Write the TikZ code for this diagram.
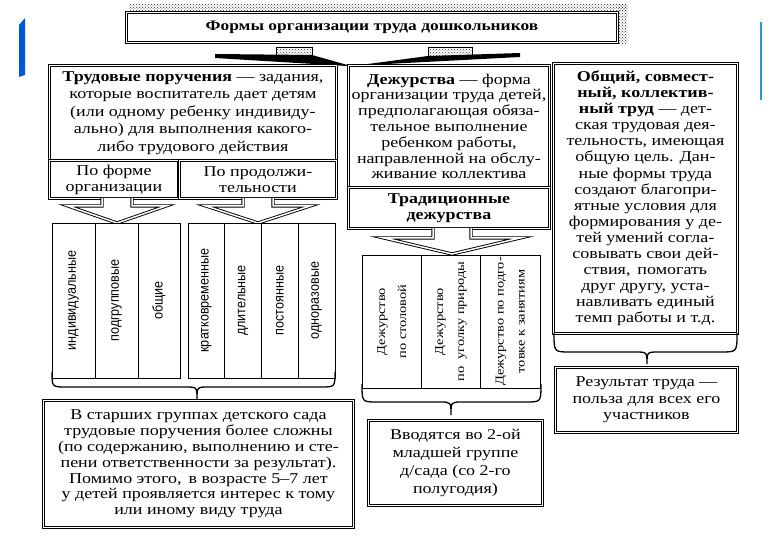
\documentclass[tikz,border=0pt]{standalone}
\usepackage{fontspec}
\setmainfont[FakeStretch=1.2]{Liberation Serif}
\newfontfamily\narrowsans[FakeStretch=0.9]{Liberation Sans}
\usetikzlibrary{calc,patterns}
\begin{document}
\begin{tikzpicture}[x=1pt,y=-1pt,
  frame/.style={draw=black, line width=0.9pt, double=white, double distance=1.5pt, fill=white,
    inner sep=0pt, anchor=north west, align=center},
  col/.style={draw=black, line width=0.7pt, fill=white, inner sep=0pt, rotate=90, align=center},
  barrow/.style={draw=black, line width=0.9pt, double=white, double distance=1.5pt, line join=miter},
  brace/.style={draw=black, line width=1.3pt},
  stub/.style={draw=black, pattern=crosshatch dots, pattern color=black!80, minimum height=10pt, inner sep=0pt, anchor=north west},
  boxtext/.style={font=\fontsize{15}{17.5}\selectfont},
  sanscol/.style={font=\narrowsans\fontsize{14}{16}\selectfont},
  sercol/.style={font=\fontsize{12}{21}\selectfont},
]
\useasboundingbox (0,0) rectangle (780,540);
\fill[white] (0,0) rectangle (780,540);

% blue side bars
\fill[blue!60!cyan!85!black] (19,25) -- (25,18) -- (25,75) -- (19,77) -- cycle;
\draw[cyan!60!teal, line width=2.5pt] (761,22) -- (761,100);

% title with hatched shadow
\fill[pattern=crosshatch dots, pattern color=black!85] (129,5) rectangle (627,11);
\fill[pattern=crosshatch dots, pattern color=black!85] (618,5) rectangle (627,44);
\node[frame, minimum width=491pt, minimum height=30pt, font=\fontsize{14.5}{17}\selectfont\bfseries] (title) at (126,12) {Формы организации труда дошкольников};

% stubs and converging bars
\coordinate (junction) at (350,66);
\node[stub, minimum width=36pt] (stubL) at (276,47) {};
\node[stub, minimum width=44pt] (stubR) at (428,47) {};
\fill (215,54) -- (312,55) -- (351,66) -- (347,66) -- (215,58) -- cycle;
\fill (520,53) -- (428,56) -- (353,66) -- (349,66) -- (520,57) -- cycle;

% left box
\node[frame, boxtext, minimum width=287pt, minimum height=95pt] (trud) at (49,65)
 {\textbf{Трудовые поручения} — задания,\\которые воспитатель дает детям\\(или одному ребенку индивиду-\\ально) для выполнения какого-\\либо трудового действия};
\node[frame, font=\fontsize{15}{16}\selectfont, minimum width=129pt, minimum height=38pt] (forma) at (49,160) {По форме\\организации};
\node[frame, font=\fontsize{15}{16}\selectfont, minimum width=157pt, minimum height=38pt] (prod) at (179,160) {По продолжи-\\тельности};

% arrows below sub boxes
\draw[barrow, fill=white] (102,198) -- (102,206) -- (68,206) -- (117,223) -- (166,206) -- (132,206) -- (132,198);
\draw[barrow, fill=white] (243,198) -- (243,206) -- (206,206) -- (258,223) -- (310,206) -- (273,206) -- (273,198);

% left columns
\node[col, sanscol, minimum width=155pt, minimum height=43pt] (c1) at (73.5,300.5) {индивидуальные};
\node[col, sanscol, minimum width=155pt, minimum height=43pt] (c2) at (116.5,300.5) {подгрупповые};
\node[col, sanscol, minimum width=155pt, minimum height=42pt] (c3) at (159,300.5) {общие};
\node[col, sanscol, minimum width=155pt, minimum height=36.75pt] (d1) at (206.4,300.5) {кратковременные};
\node[col, sanscol, minimum width=155pt, minimum height=36.75pt] (d2) at (243.1,300.5) {длительные};
\node[col, sanscol, minimum width=155pt, minimum height=36.75pt] (d3) at (279.9,300.5) {постоянные};
\node[col, sanscol, minimum width=155pt, minimum height=36.75pt] (d4) at (316.6,300.5) {одноразовые};

% left brace
\draw[brace] (52,372) .. controls (52,387) .. (66,387) -- (185,387) .. controls (197,387) .. (197,399)
  .. controls (197,387) .. (209,387) -- (321,387) .. controls (335,387) .. (335,372);

% bottom-left box
\node[frame, font=\fontsize{15}{15.8}\selectfont, minimum width=310pt, minimum height=127pt] (older) at (43,400)
 {В старших группах детского сада\\трудовые поручения более сложны\\(по содержанию, выполнению и сте-\\пени ответственности за результат).\\Помимо этого,\, в возрасте 5–7 лет\\у детей проявляется интерес к тому\\или иному виду труда};

% middle box
\node[frame, font=\fontsize{15}{15.8}\selectfont, minimum width=201pt, minimum height=122pt] (dezh) at (348,65)
 {\textbf{Дежурства} — форма\\организации труда детей,\\предполагающая обяза-\\тельное выполнение\\ребенком работы,\\направленной на обслу-\\живание коллектива};
\node[frame, font=\fontsize{15}{16}\selectfont\bfseries, minimum width=201pt, minimum height=41pt] (trad) at (348,187) {Традиционные\\дежурства};

\draw[barrow, fill=white] (433,228) -- (433,238) -- (384,238) -- (452,254) -- (520,238) -- (471,238) -- (471,228);

% middle columns
\node[col, sercol, minimum width=133pt, minimum height=59.3pt] (m1) at (391.7,321.5) {Дежурство\\по столовой};
\node[col, sercol, minimum width=133pt, minimum height=59.3pt] (m2) at (451,321.5) {Дежурство\\по\ \ уголку природы};
\node[col, sercol, minimum width=133pt, minimum height=59.3pt] (m3) at (510.3,321.5) {Дежурство по подго-\\товке к занятиям};

\draw[brace] (362,384) .. controls (362,402) .. (377,402) -- (440,402) .. controls (451,402) .. (451,415)
  .. controls (451,402) .. (462,402) -- (526,402) .. controls (541,402) .. (541,384);

\node[frame, font=\fontsize{15}{18}\selectfont, minimum width=174pt, minimum height=85pt] (vvod) at (368,420)
 {Вводятся во 2-ой\\младшей группе\\д/сада (со 2-го\\полугодия)};

% right box
\node[frame, font=\fontsize{15}{16.1}\selectfont, minimum width=184pt, minimum height=270pt] (obsh) at (553,63)
 {\textbf{Общий, совмест-}\\\textbf{ный, коллектив-}\\\textbf{ный труд} — дет-\\ская трудовая дея-\\тельность, имеющая\\общую цель. Дан-\\ные формы труда\\создают благопри-\\ятные условия для\\формирования у де-\\тей умений согла-\\совывать свои дей-\\ствия,\, помогать\\друг другу, уста-\\навливать единый\\темп работы и т.д.};

\draw[brace] (554,333) .. controls (554,352) .. (570,352) -- (635,352) .. controls (647,352) .. (647,364)
  .. controls (647,352) .. (659,352) -- (721,352) .. controls (737,352) .. (737,333);

\node[frame, font=\fontsize{15}{16.5}\selectfont, minimum width=182pt, minimum height=65pt] (rez) at (555,367)
 {Результат труда —\\польза для всех его\\участников};
\end{tikzpicture}
\end{document}
